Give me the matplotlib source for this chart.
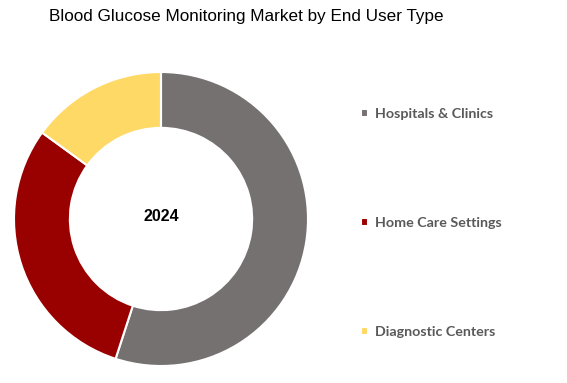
import matplotlib
matplotlib.use("Agg")
import matplotlib.pyplot as plt

# data
segments = ["Hospitals & Clinics", "Home Care Settings", "Diagnostic Centers"]
shares = [55, 30, 15]
colors = ["#767171", "#990000", "#FFD966"]
year_label = "2024"

W, H = 567, 383
fig = plt.figure(figsize=(W / 100, H / 100), dpi=100)

# donut centre ~ (161, 219) px, outer radius ~147 px
cx, cy, r = 161, 219, 147
ax = fig.add_axes([(cx - r) / W, (H - cy - r) / H, 2 * r / W, 2 * r / H])
wedges, _ = ax.pie(shares, colors=colors, startangle=90, counterclock=False,
                   radius=1.0, wedgeprops=dict(width=0.38, edgecolor="white", linewidth=1.5))
ax.set_xlim(-1, 1)
ax.set_ylim(-1, 1)
ax.set_aspect("equal")
ax.axis("off")
ax.text(0, 0.02, year_label, ha="center", va="center", fontsize=11.5,
        fontweight="bold", family="Liberation Sans")

fig.text(49 / W, 1 - 17 / H, "Blood Glucose Monitoring Market by End User Type",
         ha="left", va="center", fontsize=12.3, family="Liberation Sans")

leg = fig.legend(wedges, segments, loc="upper left", bbox_to_anchor=(348 / W, 1 - 95 / H),
                 frameon=False, handlelength=0.5, handleheight=0.5, handletextpad=0.5,
                 labelspacing=6.8, prop=dict(family="Lato", weight="bold", size=10.3))
for t in leg.get_texts():
    t.set_color("#595959")

fig.savefig("out.png", dpi=100)
